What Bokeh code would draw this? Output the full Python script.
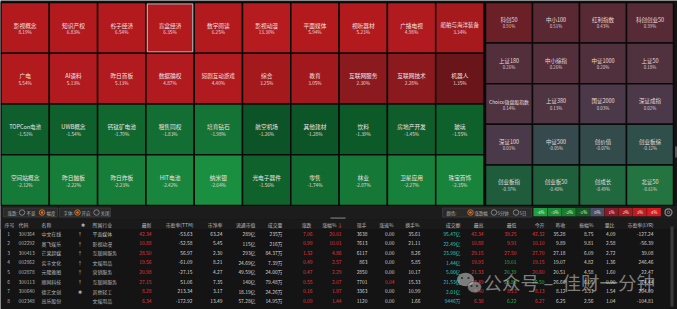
from bokeh.plotting import figure
from bokeh.models import Range1d, ColumnDataSource
from bokeh.core.properties import value
from bokeh.embed import file_html
from bokeh.resources import INLINE

# ---------------- data ----------------
heat_names = [
    "影视概念", "知识产权", "谷子经济", "盲盒经济", "数字阅读", "影视动漫", "平面媒体", "视听器材", "广播电视", "船舶与海洋装备",
    "广电", "AI语料", "昨日首板", "数据确权", "短剧互动游戏", "综合", "教育", "互联网服务", "互联网技术", "机器人",
    "TOPCon电池", "UWB概念", "钙钛矿电池", "租售同权", "培育钻石", "航空机场", "其他建材", "饮料", "房地产开发", "玻璃",
    "空间站概念", "昨日触板", "昨日炸板", "HIT电池", "纳米银", "光电子器件", "零售", "林业", "卫星应用", "珠宝首饰"]
heat_pcts = [8.19, 6.83, 6.54, 6.35, 6.25, 13.30, 5.94, 5.23, 4.98, 3.34,
             5.54, 5.13, 5.13, 4.87, 4.40, 3.25, 3.05, 2.30, 2.28, 1.35,
             -1.51, -1.54, -1.70, -1.83, -1.98, -1.26, -1.28, -1.39, -1.45, -1.55,
             -2.12, -2.22, -2.23, -2.42, -2.64, -1.56, -1.74, -2.07, -2.27, -2.35]
heat_selected = "盲盒经济"

idx_names = ["科创50", "中小100", "红利指数", "科创创业50",
             "上证180", "中小综指", "中证1000", "上证50",
             "Choice微盘股指数", "上证380", "国证2000", "深证成指",
             "深证100", "中证500", "创价值", "创业板综",
             "创业板指", "创业板50", "创成长", "北证50"]
idx_pcts = [0.91, 0.51, 0.43, 0.39,
            0.26, 0.26, 0.20, 0.18,
            0.14, 0.13, 0.03, 0.02,
            0.01, -0.05, -0.07, -0.12,
            -0.37, -0.40, -0.49, -0.61]

legend_labels = ["-4%", "-3%", "-2%", "-1%", "0%", "1%", "2%", "3%", "4%"]

seq = ["1", "2", "3", "4", "5", "6", "7", "8"]
codes = ["300364", "002292", "300413", "002862", "002878", "300113", "300640", "002348"]
names = ["中文在线", "奥飞娱乐", "芒果超媒", "实丰文化", "元隆雅图", "顺网科技", "德艺文创", "高乐股份"]
flags = ["↑", "↑", "↑", "↑", "↑", "↑", "✱", ""]
industries = ["平面媒体", "影视动漫", "互联网服务", "文娱用品", "营销服务", "互联网服务", "其他轻工", "文娱用品"]
latest = ["42.34", "10.88", "28.50", "19.56", "20.98", "27.15", "8.28", "6.34"]
pe_ttm = ["-53.63", "-52.58", "56.97", "-61.09", "-27.15", "51.06", "213.34", "-172.92"]
pb = ["63.24", "5.45", "2.30", "8.21", "4.27", "7.35", "3.17", "13.49"]
float_cap = ["289亿", "115亿", "293亿", "24.69亿", "49.59亿", "140亿", "18.19亿", "57.28亿"]
volume = ["235万", "216万", "84.37万", "7.39万", "24.00万", "79.48万", "24.26万", "14.95万"]
change = ["7.06", "0.99", "1.32", "0.49", "0.47", "0.55", "0.16", "0.09"]
change_pct = ["20.01", "10.01", "4.86", "2.57", "2.29", "2.07", "1.97", "1.44"]
cur_hand = ["3638", "7613", "6117", "863", "2850", "7701", "3363", "1120"]
speed = ["0.00", "0.00", "0.00", "0.00", "0.00", "0.04", "0.00", "0.00"]
turnover = ["35.61", "21.11", "8.26", "5.85", "10.17", "15.33", "10.99", "1.66"]
amount = ["95.47亿", "22.49亿", "23.98亿", "1.44亿", "5.00亿", "21.53亿", "2.01亿", "9446万"]
high = ["42.34", "10.88", "29.15", "19.93", "21.33", "27.49", "8.40", "6.38"]
low = ["39.25", "9.91", "27.50", "19.01", "20.39", "25.88", "8.13", "6.22"]
open_ = ["42.32", "10.10", "27.70", "19.15", "20.60", "26.50", "8.13", "6.27"]
prev_close = ["35.28", "9.89", "27.18", "19.07", "20.51", "26.60", "8.12", "6.25"]
amplitude = ["8.75", "9.81", "6.09", "4.82", "4.58", "6.05", "3.33", "2.56"]
vol_ratio = ["4.09", "2.58", "2.72", "1.36", "1.60", "0.90", "1.54", "1.04"]
pe_lyr = ["-127.24", "-56.39", "39.08", "246.46", "22.47", "74.44", "204.09", "-104.81"]

watermark_parts = ["公众号", "–", "佳财一分钟"]

# ---------------- styles ----------------
CJK = value("Noto Sans CJK SC")
BG = "#141414"
WHITE = "#d4d4d4"
GRAY = "#b4b4b4"
RED = "#e8333d"
GREEN = "#22b84a"
CYAN = "#31c6c6"
TFS = "4.9px"

LEFT_STOPS = [(-2.64, "#1b8f40"), (-2.0, "#147536"), (-1.5, "#0e5f2b"), (-1.26, "#0c5427"),
              (0.0, "#333333"), (1.35, "#6a1519"), (2.3, "#8b1a1e"), (3.0, "#a0191c"),
              (4.0, "#b11a1e"), (13.3, "#b51b1f")]
RIGHT_STOPS = [(-0.61, "#237440"), (-0.37, "#1e5c3b"), (-0.12, "#2e4f4a"), (-0.05, "#36494d"),
               (0.0, "#4a3a4a"), (0.2, "#51303d"), (0.5, "#5a2832"), (0.91, "#6b1f26")]
LEGEND_COLORS = ["#1fa03c", "#1b8f38", "#168030", "#0f5e26", "#4a5066",
                 "#8a1a24", "#a51b22", "#c01b21", "#d61a20"]


def hex2rgb(h):
    h = h.lstrip("#")
    return tuple(int(h[i:i + 2], 16) for i in (0, 2, 4))


def ramp(v, stops):
    if v <= stops[0][0]:
        return stops[0][1]
    if v >= stops[-1][0]:
        return stops[-1][1]
    for (v0, c0), (v1, c1) in zip(stops[:-1], stops[1:]):
        if v0 <= v <= v1:
            t = (v - v0) / (v1 - v0)
            a, b = hex2rgb(c0), hex2rgb(c1)
            return "#%02x%02x%02x" % tuple(round(a[k] + (b[k] - a[k]) * t) for k in range(3))
    return stops[-1][1]


W, H = 677, 309
p = figure(width=W, height=H, x_range=Range1d(0, W), y_range=Range1d(H, 0),
           output_backend="svg", toolbar_location=None, min_border=0,
           x_axis_location=None, y_axis_location=None,
           background_fill_color=BG, border_fill_color=BG)
p.grid.visible = False
p.outline_line_color = None


def add_text(xs, ys, texts, colors, size, align="left", alpha=1.0, sizes=None):
    data = dict(x=list(xs), y=list(ys), text=list(texts), color=list(colors))
    if sizes is not None:
        data["fs"] = list(sizes)
        fs = "fs"
    else:
        fs = value(size)
    src = ColumnDataSource(data)
    p.text(x="x", y="y", text="text", source=src, text_color="color", text_font=CJK,
           text_font_size=fs, text_align=align, text_baseline="middle", text_alpha=alpha)


# ---------------- heat map (left block) ----------------
NCOL = 10
LX0, LCW, TY0, LRH = 0.5, 48.3, 2.0, 50.75
lc = [i % NCOL for i in range(len(heat_names))]
lr = [i // NCOL for i in range(len(heat_names))]
l_left = [LX0 + c * LCW for c in lc]
l_top = [TY0 + r * LRH for r in lr]
p.quad(left=l_left, right=[x + LCW for x in l_left], top=l_top, bottom=[y + LRH for y in l_top],
       fill_color=[ramp(v, LEFT_STOPS) for v in heat_pcts], line_color="#0a0a0a", line_width=1.5)
si = heat_names.index(heat_selected)
p.quad(left=[l_left[si] + 1.5], right=[l_left[si] + LCW - 1.5], top=[l_top[si] + 1.5],
       bottom=[l_top[si] + LRH - 1.5], fill_color=None, line_color="#a8a8a8", line_width=1.2)
lcx = [x + LCW / 2 for x in l_left]
lcy = [y + LRH / 2 for y in l_top]
add_text(lcx, [y - 2.8 for y in lcy], heat_names, ["#efe2e2"] * len(heat_names), "5.6px", "center",
         sizes=["5.5px" if len(n) > 5 else "5.7px" for n in heat_names])
add_text(lcx, [y + 4.6 for y in lcy], [f"{v:.2f}%" for v in heat_pcts],
         ["#eadada"] * len(heat_pcts), "4.7px", "center")

# ---------------- heat map (index block) ----------------
RCOL = 4
RX0, RCW, RRH = 485.0, 47.0, 40.6
rc = [i % RCOL for i in range(len(idx_names))]
rr = [i // RCOL for i in range(len(idx_names))]
r_left = [RX0 + c * RCW for c in rc]
r_top = [TY0 + r * RRH for r in rr]
p.quad(left=r_left, right=[x + RCW for x in r_left], top=r_top, bottom=[y + RRH for y in r_top],
       fill_color=[ramp(v, RIGHT_STOPS) for v in idx_pcts], line_color="#0a0a0a", line_width=1.5)
rcx = [x + RCW / 2 for x in r_left]
rcy = [y + RRH / 2 for y in r_top]
add_text(rcx, [y - 2.8 for y in rcy], idx_names, ["#e6dcdc"] * len(idx_names), "5.5px", "center",
         sizes=["4.9px" if len(n) > 7 else "5.5px" for n in idx_names])
add_text(rcx, [y + 3.6 for y in rcy], [f"{v:.2f}%" for v in idx_pcts],
         ["#dcd0d0"] * len(idx_pcts), "4.4px", "center")
# small scroll mark on the right of heat map
p.quad(left=[674.5], right=[676.5], top=[146], bottom=[157], fill_color="#5a5a5a", line_color=None)

# ---------------- control strip ----------------
p.quad(left=[0], right=[W], top=[205.5], bottom=[219], fill_color="#1c1c1c", line_color=None)
p.quad(left=[3, 59, 442], right=[57, 110, 531], top=[207.5] * 3, bottom=[216.5] * 3,
       fill_color="#2a2a2a", line_color="#3c3c3c", line_width=0.8)
ctl_y = 212
add_text([7, 26, 46, 63, 81, 100, 446, 474, 497, 519], [ctl_y] * 10,
         ["涨跌:", "不显", "幅度", "字体:", "开启", "关闭", "颜色:", "涨跌幅", "5分钟", "5日"],
         [GRAY] * 10, "4.4px", "left")
radio_x = [21.5, 41.5, 77, 96, 470, 493.5, 515.5]
radio_on = [False, True, True, False, True, False, False]
p.scatter(x=radio_x, y=[ctl_y] * 7, marker="circle", size=5.5, fill_color=None,
          line_color=["#e07a1e" if o else "#8a8a8a" for o in radio_on], line_width=0.9)
p.scatter(x=[x for x, o in zip(radio_x, radio_on) if o], y=[ctl_y] * sum(radio_on),
          marker="circle", size=2.6, fill_color="#e07a1e", line_color=None)
# colour legend
LG0, LGW = 533.0, 14.2
lg_left = [LG0 + i * LGW for i in range(len(legend_labels))]
p.quad(left=lg_left, right=[x + LGW - 0.4 for x in lg_left], top=[207.5] * 9, bottom=[215.8] * 9,
       fill_color=LEGEND_COLORS, line_color=None)
add_text([x + LGW / 2 for x in lg_left], [211.8] * 9, legend_labels, ["#ececec"] * 9, "4.2px", "center")
# gear icon
p.scatter(x=[668], y=[211.8], marker="circle", size=7, fill_color=None, line_color="#8a8a8a", line_width=1.2)
p.scatter(x=[668], y=[211.8], marker="circle", size=2.5, fill_color=None, line_color="#8a8a8a", line_width=0.9)
# splitter handle
p.quad(left=[330], right=[345], top=[216.8], bottom=[218.6], fill_color="#5c5c5c", line_color=None)

# ---------------- table ----------------
p.quad(left=[0], right=[W], top=[219.5], bottom=[228.5], fill_color="#1a1a1a", line_color=None)
HEAD_Y, ROW0_Y, ROW_STEP = 224.0, 233.0, 9.6
row_y = [ROW0_Y + i * ROW_STEP for i in range(len(codes))]
n = len(codes)


def vs_prev(vals):
    out = []
    for v, pc in zip(vals, prev_close):
        f, g = float(v), float(pc)
        out.append(RED if f > g else GREEN if f < g else WHITE)
    return out


columns = [
    ("序号", 4, "left", seq, [GRAY] * n, 8, "center"),
    ("代码", 18, "left", codes, [GRAY] * n, 18, "left"),
    ("名称", 41, "left", names, [GRAY] * n, 41, "left"),
    ("✱", 82, "center", flags, [GRAY] * n, 79.5, "center"),
    ("所属行业", 92, "left", industries, [GRAY] * n, 92, "left"),
    ("最新", 151, "right", latest, [RED] * n, 151, "right"),
    ("市盈率(TTM)", 193, "right", pe_ttm, [WHITE] * n, 192, "right"),
    ("市净率", 222, "right", pb, [WHITE] * n, 222, "right"),
    ("流通市值", 255, "right", float_cap, [WHITE] * n, 255, "right"),
    ("成交量", 282, "right", volume, [WHITE] * n, 282, "right"),
    ("涨跌", 311, "right", change, [RED] * n, 312, "right"),
    ("涨幅%", 336, "right", change_pct, [RED] * n, 341, "right"),
    ("现手", 366, "right", cur_hand, [WHITE] * n, 367, "right"),
    ("涨速%", 393, "right", speed, [RED if float(s) > 0 else WHITE for s in speed], 394, "right"),
    ("换手%", 419, "right", turnover, [WHITE] * n, 420, "right"),
    ("成交额", 460, "right", amount, [CYAN] * n, 460, "right"),
    ("最高", 483, "right", high, vs_prev(high), 483, "right"),
    ("最低", 516, "right", low, vs_prev(low), 516, "right"),
    ("今开", 544, "right", open_, vs_prev(open_), 544, "right"),
    ("昨收", 565, "right", prev_close, [WHITE] * n, 565, "right"),
    ("振幅%", 593, "right", amplitude, [WHITE] * n, 593, "right"),
    ("量比", 614, "right", vol_ratio, [WHITE] * n, 615, "right"),
    ("市盈率(LYR)", 653, "right", pe_lyr, [WHITE] * n, 653, "right"),
]
for head, hx, halign, vals, cols, vx, valign in columns:
    add_text([hx], [HEAD_Y], [head], ["#bababa"], TFS, halign)
    add_text([vx] * n, row_y, vals, cols, TFS, valign)
add_text([339.5], [HEAD_Y], ["↓"], ["#e8572a"], "5.5px", "center")
# table scrollbar
p.quad(left=[670], right=[673], top=[226], bottom=[306], fill_color="#3a3a3a", line_color=None)

# ---------------- watermark ----------------
p.ellipse(x=[465], y=[279], width=[17], height=[13.5], fill_color="#d4d4d4", fill_alpha=0.55,
          line_color=None)
p.ellipse(x=[474], y=[286.5], width=[14], height=[11.5], fill_color="#c4c4c4", fill_alpha=0.55,
          line_color="#141414", line_alpha=0.4, line_width=1)
p.scatter(x=[461.5, 468, 471, 476.5], y=[277.5, 277.5, 285.5, 285.5], marker="circle", size=2.2,
          fill_color="#1a1a1a", line_color=None, fill_alpha=0.8)
wm_x = [483, 548, 562]
wm_align = ["left", "center", "left"]
for t, x, a in zip(watermark_parts, wm_x, wm_align):
    add_text([x], [281.5], [t], ["#dcdcdc"], "18.5px", a, alpha=0.55)

open("out.html", "w").write(file_html(p, INLINE))
